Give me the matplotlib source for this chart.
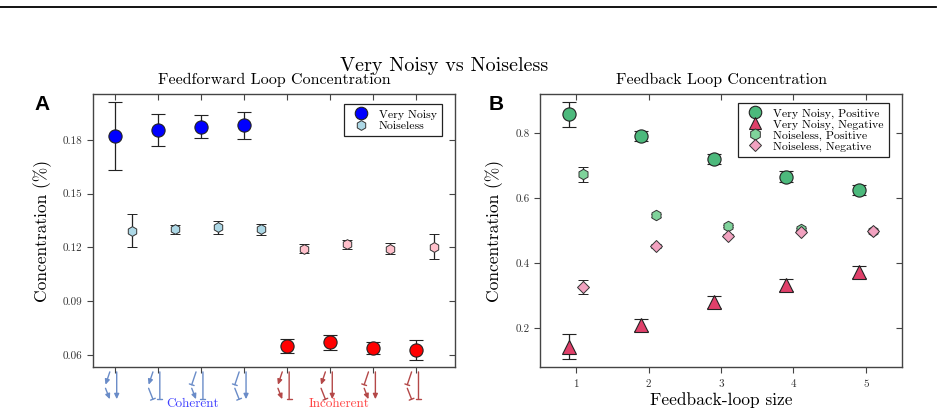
import matplotlib
matplotlib.use("Agg")
import matplotlib.pyplot as plt
from matplotlib.lines import Line2D
import numpy as np

plt.rcParams['font.family'] = 'cmr10'
plt.rcParams['axes.formatter.use_mathtext'] = True
plt.rcParams['mathtext.fontset'] = 'cm'

# ---- data: feedforward loops (panel A)
ffl_pos = [0, 1, 2, 3, 4, 5, 6, 7]
ffl_noisy = [0.1822, 0.1856, 0.1874, 0.1882, 0.0651, 0.0670, 0.0640, 0.0627]
ffl_noisy_err = [0.0191, 0.0091, 0.0063, 0.0074, 0.0039, 0.0042, 0.0035, 0.0056]
ffl_clean = [0.1293, 0.1301, 0.1312, 0.1301, 0.1193, 0.1217, 0.1193, 0.1204]
ffl_clean_err = [0.0092, 0.0026, 0.0038, 0.0031, 0.0025, 0.0025, 0.0032, 0.0070]
# motif edges: (X->Y, Y->Z, X->Z), 'a' activation, 'r' repression
motifs = ['aaa', 'arr', 'rar', 'rra', 'aar', 'ara', 'raa', 'rrr']

# ---- data: feedback loops (panel B)
fbl_size = [1, 2, 3, 4, 5]
fbl_noisy_pos = [0.8575, 0.7908, 0.7190, 0.6655, 0.6246]
fbl_noisy_pos_err = [0.039, 0.016, 0.016, 0.017, 0.016]
fbl_noisy_neg = [0.1425, 0.2083, 0.2790, 0.3323, 0.3723]
fbl_noisy_neg_err = [0.038, 0.018, 0.018, 0.019, 0.018]
fbl_clean_pos = [0.6730, 0.5468, 0.5138, 0.5037, 0.4994]
fbl_clean_pos_err = [0.023, 0.005, 0.004, 0.003, 0.003]
fbl_clean_neg = [0.3260, 0.4523, 0.4840, 0.4963, 0.4994]
fbl_clean_neg_err = [0.023, 0.006, 0.004, 0.003, 0.003]

fig = plt.figure(figsize=(9.48, 4.15), dpi=100)
axA = fig.add_axes([0.0981, 0.1157, 0.382, 0.658])
axB = fig.add_axes([0.5696, 0.1157, 0.3819, 0.658])

# line at the very top
fig.add_artist(Line2D([0.0, 0.987], [0.983, 0.983], color='black', lw=1.3, transform=fig.transFigure))

fig.text(0.469, 0.84, 'Very Noisy vs Noiseless', ha='center', va='center', fontsize=14.5)


def style_axes(ax, xticks, yticks):
    for s in ax.spines.values():
        s.set_color('#444444')
        s.set_linewidth(1.0)
    ax.set_xticks(xticks)
    ax.set_yticks(yticks)
    ax.tick_params(direction='out', length=4, width=0.8, color='#444444',
                   labelsize=8, labelcolor='#333333', top=False, right=False)
    top = ax.secondary_xaxis('top')
    top.set_xticks(xticks)
    top.tick_params(direction='in', length=4, width=0.8, color='#444444', labeltop=False)
    top.spines['top'].set_visible(False)
    right = ax.secondary_yaxis('right')
    right.set_yticks(yticks)
    right.tick_params(direction='in', length=4, width=0.8, color='#444444', labelright=False)
    right.spines['right'].set_visible(False)


# ---- panel A
colA_noisy = ['#0000ff'] * 4 + ['#ff0000'] * 4
colA_clean = ['#add8e6'] * 4 + ['#ffc0cb'] * 4
for i, x in enumerate(ffl_pos):
    axA.errorbar(x + 0.4, ffl_clean[i], yerr=ffl_clean_err[i], fmt='h', ms=7,
                 mfc=colA_clean[i], mec='#333333', mew=0.7, ecolor='#222222',
                 elinewidth=0.9, capsize=3.5, capthick=0.9, zorder=3)
    axA.errorbar(x, ffl_noisy[i], yerr=ffl_noisy_err[i], fmt='o', ms=9.5,
                 mfc=colA_noisy[i], mec='#222222', mew=0.8, ecolor='#222222',
                 elinewidth=0.9, capsize=4.8, capthick=0.9, zorder=4)
axA.set_xlim(-0.5, 7.9)
axA.set_ylim(0.0533, 0.2057)
style_axes(axA, ffl_pos, [0.06, 0.09, 0.12, 0.15, 0.18])
axA.set_xticklabels([])
axA.set_yticklabels(['0.06', '0.09', '0.12', '0.15', '0.18'])
axA.set_ylabel('Concentration (%)', fontsize=12.5, labelpad=8)
axA.set_title('Feedforward Loop Concentration', fontsize=11.5, pad=7)

hA = [Line2D([], [], ls='', marker='o', ms=9, mfc='#0000ff', mec='#222222', mew=0.8),
      Line2D([], [], ls='', marker='h', ms=7, mfc='#add8e6', mec='#333333', mew=0.7)]
legA = axA.legend(hA, ['Very Noisy', 'Noiseless'], loc='upper right', fontsize=8.5,
                  frameon=True, fancybox=False, edgecolor='#222222', framealpha=1,
                  handletextpad=0.5, labelspacing=0.1, borderpad=0.45,
                  borderaxespad=0, bbox_to_anchor=(0.964, 0.963))
legA.get_frame().set_linewidth(0.9)

# motif sketches under the axis
tr = axA.get_xaxis_transform()
for i, x in enumerate(ffl_pos):
    col = '#6a8cc8' if i < 4 else '#b44848'
    edges = [((x - 0.11, -0.018), (x - 0.21, -0.065)),
             ((x - 0.21, -0.078), (x - 0.11, -0.118)),
             ((x + 0.05, -0.018), (x + 0.05, -0.118))]
    for kind, (p0, p1) in zip(motifs[i], edges):
        style = '-|>,head_length=0.3,head_width=0.14' if kind == 'a' else '-[,widthB=0.18,lengthB=0'
        axA.annotate('', xy=p1, xytext=p0, xycoords=tr, textcoords=tr,
                     annotation_clip=False,
                     arrowprops=dict(arrowstyle=style, color=col, lw=1.0,
                                     shrinkA=0, shrinkB=0))
axA.text(1.8, -0.135, 'Coherent', transform=tr, ha='center', va='center',
         fontsize=9.5, color='#4040ff')
axA.text(5.2, -0.135, 'Incoherent', transform=tr, ha='center', va='center',
         fontsize=9.5, color='#ff4545')

# ---- panel B
xs = np.array(fbl_size)
ebkw = dict(ecolor='#222222', elinewidth=0.9, capthick=0.9, ls='')
axB.errorbar(xs + 0.1, fbl_clean_pos, yerr=fbl_clean_pos_err, fmt='h', ms=7.5,
             mfc='#7fd39b', mec='#333333', mew=0.7, capsize=3.8, zorder=3, **ebkw)
axB.errorbar(xs + 0.1, fbl_clean_neg, yerr=fbl_clean_neg_err, fmt='D', ms=6,
             mfc='#f2a2c0', mec='#333333', mew=0.7, capsize=3.8, zorder=3, **ebkw)
axB.errorbar(xs - 0.1, fbl_noisy_pos, yerr=fbl_noisy_pos_err, fmt='o', ms=9.5,
             mfc='#4cb97c', mec='#222222', mew=0.8, capsize=4.8, zorder=4, **ebkw)
axB.errorbar(xs - 0.1, fbl_noisy_neg, yerr=fbl_noisy_neg_err, fmt='^', ms=9.5,
             mfc='#e0406a', mec='#222222', mew=0.8, capsize=4.8, zorder=4, **ebkw)
axB.set_xlim(0.5, 5.5)
axB.set_ylim(0.08, 0.92)
style_axes(axB, fbl_size, [0.2, 0.4, 0.6, 0.8])
axB.set_xticklabels([str(v) for v in fbl_size])
axB.set_yticklabels(['0.2', '0.4', '0.6', '0.8'])
axB.tick_params(axis='x', pad=5)
axB.set_ylabel('Concentration (%)', fontsize=12.5, labelpad=8)
axB.set_xlabel('Feedback-loop size', fontsize=12.5, labelpad=2)
axB.set_title('Feedback Loop Concentration', fontsize=11.5, pad=7)

hB = [Line2D([], [], ls='', marker='o', ms=9, mfc='#4cb97c', mec='#222222', mew=0.8),
      Line2D([], [], ls='', marker='^', ms=9, mfc='#e0406a', mec='#222222', mew=0.8),
      Line2D([], [], ls='', marker='h', ms=8, mfc='#7fd39b', mec='#333333', mew=0.7),
      Line2D([], [], ls='', marker='D', ms=6.5, mfc='#f2a2c0', mec='#333333', mew=0.7)]
legB = axB.legend(hB, ['Very Noisy, Positive', 'Very Noisy, Negative',
                       'Noiseless, Positive', 'Noiseless, Negative'],
                  loc='upper right', fontsize=8.5, frameon=True, fancybox=False,
                  edgecolor='#222222', framealpha=1, handletextpad=0.5,
                  labelspacing=0.05, borderpad=0.45, borderaxespad=0,
                  bbox_to_anchor=(0.964, 0.967))
legB.get_frame().set_linewidth(0.9)

# panel letters
fig.text(0.044, 0.748, 'A', fontsize=15, fontweight='bold', family='Liberation Sans',
         ha='center', va='center')
fig.text(0.523, 0.748, 'B', fontsize=15, fontweight='bold', family='Liberation Sans',
         ha='center', va='center')

fig.savefig('out.png', dpi=100)
